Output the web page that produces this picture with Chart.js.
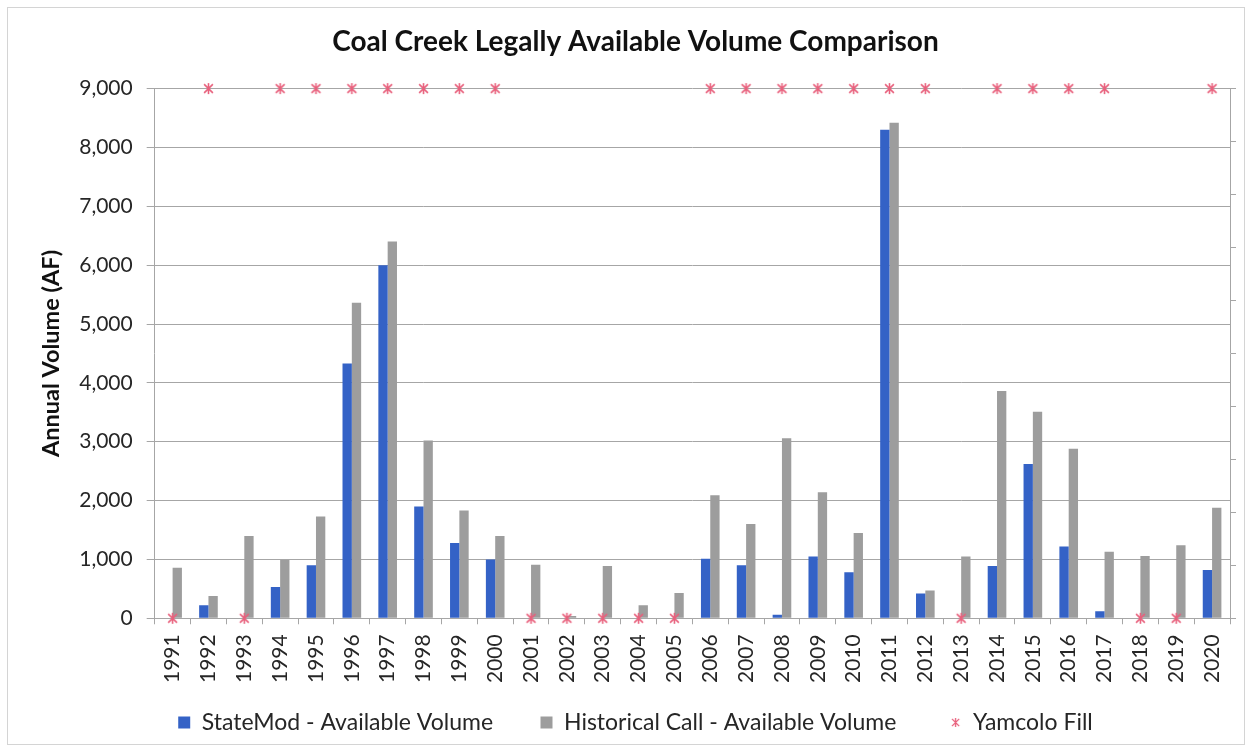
<!DOCTYPE html>
<html>
<head>
<meta charset="utf-8">
<title>Coal Creek Legally Available Volume Comparison</title>
<script src="https://cdn.jsdelivr.net/npm/chart.js@4.4.1/dist/chart.umd.min.js"></script>
<style>
  body { margin: 0; background: #fff; }
  #wrap { position: relative; width: 1253px; height: 753px; }
  #frame {
    position: absolute; left: 7px; top: 7px; width: 1238px; height: 738px;
    border: 1px solid #d4d4d4; box-sizing: border-box;
  }
  #chart { position: absolute; left: 0; top: 0; }
</style>
</head>
<body>
<div id="wrap">
  <div id="frame"></div>
  <canvas id="chart" width="1253" height="753"></canvas>
</div>
<script>
// years on the x axis
const years = ['1991', '1992', '1993', '1994', '1995', '1996', '1997', '1998', '1999', '2000',
  '2001', '2002', '2003', '2004', '2005', '2006', '2007', '2008', '2009', '2010',
  '2011', '2012', '2013', '2014', '2015', '2016', '2017', '2018', '2019', '2020'];

// annual volume (AF)
const stateModVolume = [0, 220, 0, 530, 900, 4330, 6000, 1900, 1280, 1000,
  0, 0, 0, 0, 0, 1010, 900, 60, 1050, 780,
  8300, 420, 0, 890, 2620, 1220, 120, 0, 0, 820];
const historicalVolume = [860, 380, 1400, 990, 1730, 5360, 6400, 3020, 1830, 1400,
  910, 40, 890, 220, 430, 2090, 1600, 3060, 2140, 1450,
  8420, 470, 1050, 3860, 3510, 2880, 1130, 1060, 1240, 1880];

// Yamcolo fill on the secondary axis: 1 = filled, 0 = not filled
const yamcoloFill = [0, 1, 0, 1, 1, 1, 1, 1, 1, 1,
  0, 0, 0, 0, 0, 1, 1, 1, 1, 1,
  1, 1, 0, 1, 1, 1, 1, 0, 0, 1];

const yTicks = [0, 1000, 2000, 3000, 4000, 5000, 6000, 7000, 8000, 9000];

const FONT = 'Lato, "Open Sans", sans-serif';
const GRID = '#a6a6a6';
const TEXT = '#262626';
const PINK = '#e8607c';

// excel style "star" marker: an x with a vertical stroke through it
function starMarker(r, width) {
  const size = Math.ceil(r * 2 + 4);
  const c = document.createElement('canvas');
  c.width = size;
  c.height = size;
  const g = c.getContext('2d');
  const m = size / 2;
  const d = r * 0.8;
  g.strokeStyle = PINK;
  g.lineWidth = width;
  g.beginPath();
  g.moveTo(m - d, m - d); g.lineTo(m + d, m + d);
  g.moveTo(m + d, m - d); g.lineTo(m - d, m + d);
  g.moveTo(m, m - r); g.lineTo(m, m + r);
  g.stroke();
  return c;
}

const pointMarker = starMarker(5.5, 1.6);
const legendMarker = starMarker(4.5, 1.3);

// trailing space after each legend item (non-breaking spaces)
const legendGaps = [5, 6, 0];

// default legend items, kept in dataset order, spaced out with trailing blanks
const legendLabels = (chart) => {
  const items = Chart.defaults.plugins.legend.labels.generateLabels(chart);
  items.sort((a, b) => a.datasetIndex - b.datasetIndex);
  items.forEach((it, i) => {
    it.text = it.text + '\u00a0'.repeat(legendGaps[i]);
    if (it.datasetIndex === 2) it.pointStyle = legendMarker;
  });
  return items;
};

const ctx = document.getElementById('chart').getContext('2d');

const chart = new Chart(ctx, {
  data: {
    labels: years,
    datasets: [
      {
        type: 'bar',
        label: 'StateMod - Available Volume',
        data: stateModVolume,
        backgroundColor: '#3462c6',
        pointStyle: 'rect',
        yAxisID: 'y',
        order: 2
      },
      {
        type: 'bar',
        label: 'Historical Call - Available Volume',
        data: historicalVolume,
        backgroundColor: '#9d9d9d',
        pointStyle: 'rect',
        yAxisID: 'y',
        order: 2
      },
      {
        type: 'line',
        label: 'Yamcolo Fill',
        data: yamcoloFill,
        yAxisID: 'y2',
        showLine: false,
        pointStyle: pointMarker,
        pointRadius: 6,
        borderColor: PINK,
        backgroundColor: PINK,
        clip: false,
        order: 1
      }
    ]
  },
  options: {
    responsive: false,
    animation: false,
    layout: { padding: { left: 35, right: 17, top: 18, bottom: 9 } },
    datasets: {
      bar: { categoryPercentage: 0.52, barPercentage: 1 }
    },
    plugins: {
      title: {
        display: true,
        text: 'Coal Creek Legally Available Volume Comparison',
        color: '#111',
        font: { family: FONT, size: 28, weight: 'bold' },
        padding: { top: 7, bottom: 30 }
      },
      legend: {
        position: 'bottom',
        labels: {
          usePointStyle: true,
          boxWidth: 12,
          boxHeight: 12,
          padding: 18,
          color: TEXT,
          font: { family: FONT, size: 23 },
          generateLabels: legendLabels
        }
      },
      tooltip: { enabled: false }
    },
    scales: {
      x: {
        offset: true,
        grid: {
          offset: true,
          drawOnChartArea: false,
          drawTicks: true,
          tickLength: 6,
          color: GRID
        },
        border: { color: GRID },
        ticks: {
          autoSkip: false,
          minRotation: 90,
          maxRotation: 90,
          padding: 10,
          color: TEXT,
          font: { family: FONT, size: 21 }
        }
      },
      y: {
        min: 0,
        max: 9000,
        afterBuildTicks: (scale) => { scale.ticks = yTicks.map(v => ({ value: v })); },
        grid: { color: GRID, tickLength: 8 },
        border: { color: GRID },
        title: {
          display: true,
          text: 'Annual Volume (AF)',
          color: '#111',
          font: { family: FONT, size: 23.5, weight: 'bold' },
          padding: { top: 2, bottom: 0 }
        },
        ticks: {
          padding: 14,
          color: TEXT,
          font: { family: FONT, size: 21 },
          callback: (v) => v.toLocaleString('en-US')
        }
      },
      y2: {
        position: 'right',
        min: 0,
        max: 1,
        ticks: { display: false, stepSize: 0.1 },
        grid: { drawOnChartArea: false, tickLength: 6, color: GRID },
        border: { color: GRID }
      }
    }
  }
});
</script>
</body>
</html>
